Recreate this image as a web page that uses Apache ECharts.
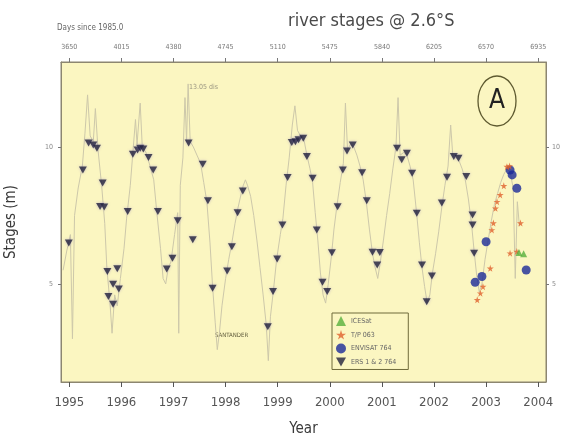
<!DOCTYPE html>
<html>
<head>
<meta charset="utf-8">
<script src="https://cdn.jsdelivr.net/npm/echarts@6/dist/echarts.min.js"></script>
<style>
  html, body { margin: 0; padding: 0; background: #fff; }
  #chart { width: 562px; height: 439px; }
</style>
</head>
<body>
<div id="chart"></div>
<script>
// Year ticks (bottom axis); the top axis shows the same instants as days since 1985.0
const yearTicks = [1995, 1996, 1997, 1998, 1999, 2000, 2001, 2002, 2003, 2004];
const stageTicks = [5, 10];

// Daily gauge record, sampled (decimal year, stage in m)
const gaugeYears = [
  1994.88, 1994.95, 1995.02, 1995.06, 1995.10, 1995.17, 1995.25, 1995.30, 1995.35, 1995.40, 1995.46, 1995.50, 1995.55, 1995.62, 1995.68, 1995.72, 1995.78, 1995.82, 1995.87, 1995.92, 1995.98,
  1996.05, 1996.10, 1996.17, 1996.22, 1996.27, 1996.30, 1996.36, 1996.40, 1996.47, 1996.55, 1996.62, 1996.68, 1996.75, 1996.80, 1996.85, 1996.90, 1996.95,
  1997.02, 1997.08, 1997.10, 1997.13, 1997.18, 1997.22, 1997.25, 1997.28, 1997.32, 1997.38, 1997.45, 1997.52, 1997.58, 1997.64, 1997.70, 1997.75, 1997.80, 1997.84, 1997.88, 1997.93,
  1998.00, 1998.06, 1998.12, 1998.18, 1998.24, 1998.30, 1998.34, 1998.38, 1998.42, 1998.48, 1998.54, 1998.60, 1998.66, 1998.72, 1998.78, 1998.82, 1998.86, 1998.92, 1998.98,
  1999.05, 1999.10, 1999.16, 1999.22, 1999.28, 1999.33, 1999.38, 1999.44, 1999.50, 1999.56, 1999.62, 1999.67, 1999.72, 1999.77, 1999.82, 1999.87, 1999.92, 1999.97,
  2000.03, 2000.08, 2000.14, 2000.20, 2000.26, 2000.30, 2000.34, 2000.40, 2000.46, 2000.52, 2000.58, 2000.64, 2000.70, 2000.76, 2000.82, 2000.87, 2000.92, 2000.97,
  2001.03, 2001.09, 2001.15, 2001.21, 2001.27, 2001.31, 2001.35, 2001.42, 2001.48, 2001.54, 2001.60, 2001.66, 2001.72, 2001.77, 2001.82, 2001.87, 2001.92, 2001.97,
  2002.03, 2002.09, 2002.15, 2002.21, 2002.27, 2002.32, 2002.36, 2002.42, 2002.48, 2002.54, 2002.60, 2002.66, 2002.72, 2002.77, 2002.82, 2002.87, 2002.92, 2002.98,
  2003.04, 2003.10, 2003.16, 2003.22, 2003.28, 2003.34, 2003.40, 2003.46, 2003.52, 2003.56, 2003.60, 2003.64
];
const gaugeStages = [
  5.5, 6.2, 6.8, 3.0, 7.5, 8.5, 9.3, 10.5, 11.9, 10.4, 10.2, 11.4, 9.9, 8.6, 7.2, 5.6, 4.3, 3.2, 4.6, 4.2, 5.2,
  6.3, 7.4, 8.6, 9.8, 11.0, 10.1, 11.6, 10.0, 9.8, 9.3, 8.8, 7.6, 6.3, 5.2, 5.0, 5.6, 5.8,
  6.8, 7.6, 3.2, 8.6, 9.6, 11.8, 10.2, 12.3, 10.2, 10.0, 9.7, 9.4, 8.7, 8.0, 6.5, 4.9, 3.6, 2.6, 3.2, 4.2,
  5.2, 5.9, 6.5, 7.2, 7.8, 8.3, 8.6, 8.8, 8.6, 8.2, 7.5, 6.6, 5.6, 4.6, 3.5, 2.2, 3.8, 4.8, 5.9,
  6.8, 7.4, 8.6, 9.6, 10.8, 11.5, 10.6, 10.4, 10.3, 9.7, 9.2, 8.7, 7.6, 6.6, 5.4, 4.6, 4.3, 5.0,
  6.0, 7.0, 7.9, 8.7, 9.4, 11.6, 9.9, 10.1, 10.0, 9.7, 9.3, 8.8, 8.0, 7.0, 6.1, 5.6, 5.2, 5.8,
  6.6, 7.5, 8.3, 9.2, 10.0, 11.8, 9.7, 9.8, 9.7, 9.3, 8.8, 7.7, 6.5, 5.6, 4.9, 4.3, 4.6, 5.4,
  6.1, 6.9, 7.8, 8.6, 9.3, 10.8, 9.7, 9.6, 9.5, 9.2, 8.8, 8.1, 7.2, 6.2, 5.3, 4.7, 5.0, 5.9,
  6.6, 7.3, 7.9, 8.3, 8.7, 9.0, 9.2, 9.1, 8.5, 5.2, 8.0, 7.1
];

// ERS-1 & ERS-2, track 764
const ersYears = [
  1994.99, 1995.26, 1995.37, 1995.46, 1995.53, 1995.59, 1995.64, 1995.67, 1995.73, 1995.75, 1995.84, 1995.84, 1995.92, 1995.95,
  1996.12, 1996.22, 1996.31, 1996.36, 1996.42, 1996.52, 1996.61, 1996.70, 1996.87, 1996.98,
  1997.08, 1997.29, 1997.37, 1997.56, 1997.66, 1997.75,
  1998.03, 1998.12, 1998.23, 1998.33, 1998.81, 1998.91, 1998.99,
  1999.09, 1999.19, 1999.27, 1999.34, 1999.40, 1999.49, 1999.56, 1999.67, 1999.75, 1999.86, 1999.95,
  2000.04, 2000.15, 2000.25, 2000.33, 2000.44, 2000.62, 2000.71, 2000.82, 2000.91, 2000.96,
  2001.29, 2001.38, 2001.48, 2001.58, 2001.67, 2001.77, 2001.86, 2001.96,
  2002.15, 2002.25, 2002.38, 2002.47, 2002.62, 2002.74, 2002.74, 2002.77
];
const ersStages = [
  6.49, 9.16, 10.14, 10.07, 9.95, 7.83, 8.68, 7.81, 5.45, 4.54, 4.99, 4.26, 5.55, 4.81,
  7.64, 9.73, 9.89, 9.95, 9.92, 9.61, 9.16, 7.64, 5.54, 5.94,
  7.31, 10.14, 6.61, 9.37, 8.04, 4.84,
  5.47, 6.36, 7.60, 8.39, 3.44, 4.72, 5.91,
  7.15, 8.88, 10.16, 10.19, 10.26, 10.32, 9.65, 8.86, 6.97, 5.06, 4.72,
  6.14, 7.82, 9.16, 9.85, 10.07, 9.06, 8.04, 6.16, 5.69, 6.15,
  9.95, 9.53, 9.77, 9.04, 7.58, 5.69, 4.35, 5.29,
  7.95, 8.89, 9.65, 9.59, 8.92, 7.52, 7.15, 6.12
];

// ENVISAT, track 764
const envYears = [2002.79, 2002.92, 2003.00, 2003.46, 2003.50, 2003.59, 2003.77];
const envStages = [5.06, 5.27, 6.54, 9.16, 8.98, 8.49, 5.51];

// TOPEX/Poseidon, track 063
const tpYears = [2002.83, 2002.89, 2002.94, 2003.08, 2003.11, 2003.14, 2003.18, 2003.21, 2003.27, 2003.34, 2003.40, 2003.45, 2003.46, 2003.59, 2003.66];
const tpStages = [4.42, 4.66, 4.90, 5.57, 6.97, 7.22, 7.76, 8.00, 8.25, 8.58, 9.28, 9.30, 6.12, 6.18, 7.22];

// ICESat
const iceYears = [2003.63, 2003.72];
const iceStages = [6.15, 6.10];

const pairs = (xs, ys) => xs.map((x, i) => [x, ys[i]]);

const starPath = 'path://M50,0 L61,35 L98,35 L68,57 L79,91 L50,70 L21,91 L32,57 L2,35 L39,35 Z';
const downTri = 'path://M0,0 L10,0 L5,9 Z';

const axisGrey = '#8c8670';
const font = "'Liberation Sans Narrow', 'DejaVu Sans Condensed', 'Liberation Sans', sans-serif";

const chart = echarts.init(document.getElementById('chart'), null, { renderer: 'canvas' });

chart.setOption({
  animation: false,
  backgroundColor: '#ffffff',
  textStyle: { fontFamily: font },
  title: {
    text: 'river stages @ 2.6°S',
    left: 283, top: 7,
    textStyle: { fontSize: 18, fontWeight: 'normal', color: '#4a4a4a', fontFamily: font }
  },
  grid: {
    left: 61, right: 16, top: 62, bottom: 57,
    outerBoundsMode: 'none',
    show: true, backgroundColor: '#fbf6c1', borderColor: axisGrey, borderWidth: 1
  },
  legend: {
    orient: 'vertical',
    left: 332, top: 313,
    itemWidth: 10, itemHeight: 10, itemGap: 4,
    padding: [3, 12, 3, 4],
    backgroundColor: '#fbf6c1',
    borderColor: '#6f6a3a', borderWidth: 1,
    textStyle: { fontSize: 7, color: '#666', fontFamily: font },
    data: ['ICESat', 'T/P 063', 'ENVISAT 764', 'ERS 1 & 2 764']
  },
  xAxis: [
    {
      type: 'value', min: 1994.84, max: 2004.15,
      name: 'Year', nameLocation: 'middle', nameGap: 40,
      nameTextStyle: { fontSize: 15, color: '#3a3a3a', fontFamily: font },
      splitLine: { show: false },
      axisLine: { show: true, onZero: false, lineStyle: { color: axisGrey } },
      axisTick: { show: true, customValues: yearTicks, length: 5, lineStyle: { color: '#555' } },
      axisLabel: { customValues: yearTicks, margin: 14, fontSize: 13, color: '#555', fontFamily: font,
                   formatter: v => String(Math.round(v)) }
    },
    {
      type: 'value', position: 'top', min: 1994.84, max: 2004.15,
      splitLine: { show: false },
      axisLine: { show: true, onZero: false, lineStyle: { color: axisGrey } },
      axisTick: { show: true, customValues: yearTicks, length: 4, lineStyle: { color: '#777' } },
      axisLabel: { customValues: yearTicks, margin: 11, fontSize: 7, color: '#777', fontFamily: font,
                   formatter: v => String(Math.round((v - 1985) * 365)) }
    }
  ],
  yAxis: [
    {
      type: 'value', min: 1.42, max: 13.1,
      name: 'Stages (m)', nameLocation: 'middle', nameGap: 42, nameRotate: 90,
      nameTextStyle: { fontSize: 15, color: '#3a3a3a', fontFamily: font },
      splitLine: { show: false },
      axisLine: { show: true, onZero: false, lineStyle: { color: axisGrey } },
      axisTick: { show: true, customValues: stageTicks, length: 3, lineStyle: { color: '#777' } },
      axisLabel: { customValues: stageTicks, margin: 8, fontSize: 7, color: '#888', fontFamily: font }
    },
    {
      type: 'value', position: 'right', min: 1.42, max: 13.1,
      splitLine: { show: false },
      axisLine: { show: true, onZero: false, lineStyle: { color: axisGrey } },
      axisTick: { show: true, customValues: stageTicks, length: 3, lineStyle: { color: '#777' } },
      axisLabel: { customValues: stageTicks, margin: 6, fontSize: 7, color: '#888', fontFamily: font }
    }
  ],
  graphic: [
    { type: 'text', left: 57, top: 24,
      style: { text: 'Days since 1985.0', fontSize: 8, fill: '#666', fontFamily: font } },
    { type: 'text', left: 189, top: 84,
      style: { text: '13.05 dis', fontSize: 7, fill: '#9a9680', fontFamily: font } },
    { type: 'text', left: 215, top: 332,
      style: { text: 'SANTANDER', fontSize: 6, fill: '#5e5a3a', fontFamily: font } },
    { type: 'ellipse', shape: { cx: 497, cy: 101, rx: 19, ry: 25 },
      style: { fill: 'none', stroke: '#5e5a30', lineWidth: 1.3 } },
    { type: 'text', x: 497, y: 101,
      style: { text: 'A', fontSize: 26, fill: '#222', fontFamily: font,
               align: 'center', verticalAlign: 'middle' } }
  ],
  series: [
    {
      name: 'gauge', type: 'line', xAxisIndex: 0, yAxisIndex: 0,
      data: pairs(gaugeYears, gaugeStages),
      showSymbol: false, symbol: 'none',
      lineStyle: { color: '#cdc8aa', width: 1 },
      z: 1
    },
    {
      name: 'ERS 1 & 2 764', type: 'scatter',
      data: pairs(ersYears, ersStages),
      symbol: downTri, symbolSize: [8, 7],
      itemStyle: { color: '#22223c', shadowColor: 'rgba(120,100,200,0.5)', shadowBlur: 3 },
      z: 3
    },
    {
      name: 'ENVISAT 764', type: 'scatter',
      data: pairs(envYears, envStages),
      symbol: 'circle', symbolSize: 9,
      itemStyle: { color: '#1c2a98' },
      z: 4
    },
    {
      name: 'T/P 063', type: 'scatter',
      data: pairs(tpYears, tpStages),
      symbol: starPath, symbolSize: 7,
      itemStyle: { color: '#e0602c' },
      z: 5
    },
    {
      name: 'ICESat', type: 'scatter',
      data: pairs(iceYears, iceStages),
      symbol: 'triangle', symbolSize: 7,
      itemStyle: { color: '#58b03c' },
      z: 6
    }
  ]
});
</script>
</body>
</html>
